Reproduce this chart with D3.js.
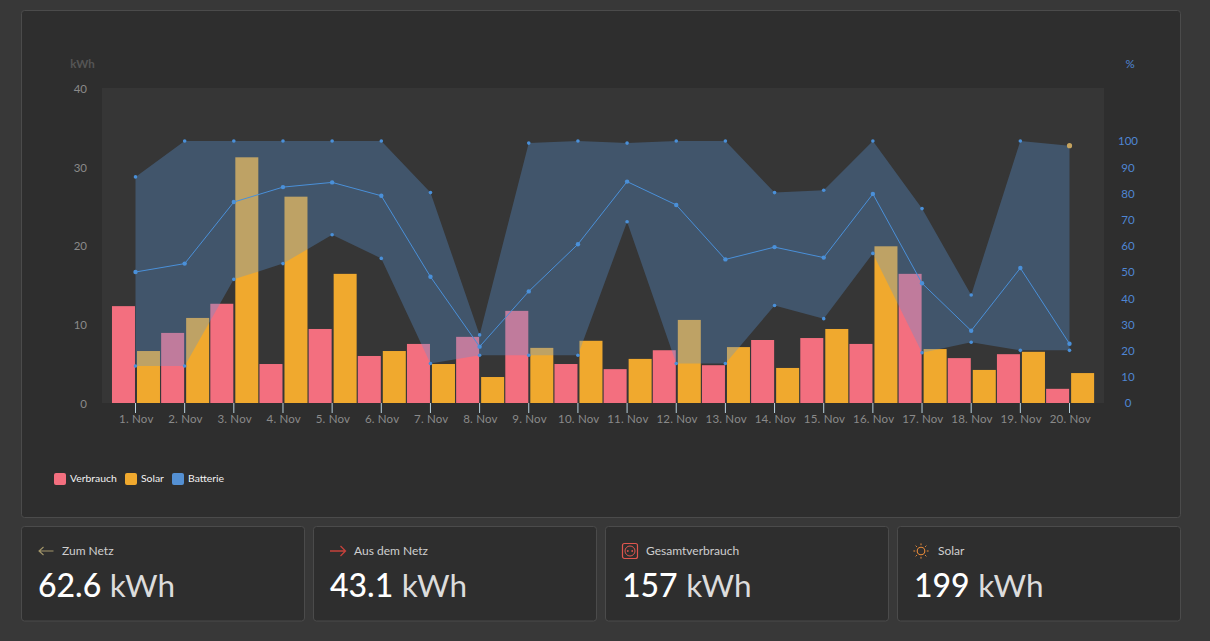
<!DOCTYPE html>
<html><head><meta charset="utf-8">
<script src="https://cdn.jsdelivr.net/npm/d3@7/dist/d3.min.js"></script>
<style>
html,body{margin:0;padding:0;background:#383838;overflow:hidden}
svg{display:block}
text{font-family:"Lato","Noto Sans",sans-serif}
.domain{display:none}
</style></head><body><svg id="c" width="1210" height="641"></svg>
<script>
const days=["1. Nov","2. Nov","3. Nov","4. Nov","5. Nov","6. Nov","7. Nov","8. Nov","9. Nov","10. Nov","11. Nov","12. Nov","13. Nov","14. Nov","15. Nov","16. Nov","17. Nov","18. Nov","19. Nov","20. Nov"];
const verbrauch=[12.3,8.9,12.6,4.95,9.4,5.97,7.5,8.4,11.7,4.95,4.3,6.7,4.8,8.0,8.25,7.5,16.4,5.7,6.2,1.8];
const solar=[6.6,10.8,31.2,26.2,16.4,6.6,4.95,3.3,7.0,7.9,5.6,10.55,7.1,4.45,9.4,19.9,6.85,4.2,6.5,3.8];
const batterieMax=[86.3,100,100,100,100,100,80.3,26,99.2,100,99.2,100,100,80.3,81.2,100,74.2,41.2,100,98.2];
const batterieMin=[14.1,14.1,47.2,53.2,64.2,55.2,15.1,18.2,18.2,18.2,69.2,15.1,15.1,37.2,32.2,57.1,19.2,23.2,20.1,20.1];
const batterieAvg=[50,53.2,76.7,82.4,84.2,79.1,48.2,21.5,42.6,60.6,84.5,75.6,54.8,59.5,55.5,79.8,45.7,27.6,51.5,22.6];
const kwhTicks=[0,10,20,30,40];
const pctTicks=[0,10,20,30,40,50,60,70,80,90,100];
const legendItems=["Verbrauch","Solar","Batterie"];
const cardLabels=["Zum Netz","Aus dem Netz","Gesamtverbrauch","Solar"];
const cardNumbers=["62.6","43.1","157","199"];
const cardUnit="kWh";

const PINK="#f36f7f",ORANGE="#f0a92e",BLUE="#4a90d9";
const svg=d3.select("#c");

// panels
svg.append("rect").attr("x",21.5).attr("y",10.5).attr("width",1159).attr("height",507).attr("rx",3)
  .attr("fill","#2e2e2e").attr("stroke","#4b4b4b");
svg.append("rect").attr("x",102).attr("y",88).attr("width",1002).attr("height",315).attr("fill","#363636");

const x0=d3.scaleBand().domain(days).range([111.4,1094.7]);
const x1=d3.scaleBand().domain(["v","s"]).range([0,x0.bandwidth()]).paddingInner(.08).paddingOuter(.023);
const xP=d3.scalePoint().domain(days).range([135.5,1069.5]);
const yK=d3.scaleLinear().domain([0,40]).range([403,88]);
const yP=d3.scaleLinear().domain([0,120]).range([403,88.6]);

// bars
const bars=svg.append("g");
[["v",verbrauch,PINK],["s",solar,ORANGE]].forEach(([k,vals,col])=>{
  bars.selectAll("rect."+k).data(vals).join("rect").attr("class",k)
    .attr("x",(d,i)=>x0(days[i])+x1(k)).attr("width",x1.bandwidth())
    .attr("y",d=>yK(d)).attr("height",d=>403-yK(d)).attr("fill",col);
});

// battery band
const area=d3.area().x((d,i)=>xP(days[i])).y0((d,i)=>yP(batterieMin[i])).y1(d=>yP(d));
svg.append("path").attr("d",area(batterieMax)).attr("fill","rgba(88,148,216,.33)");
const line=d3.line().x((d,i)=>xP(days[i])).y(d=>yP(d));
svg.append("path").attr("d",line(batterieAvg)).attr("fill","none").attr("stroke",BLUE).attr("stroke-width",1);
svg.append("g").selectAll("circle").data(batterieAvg).join("circle")
  .attr("cx",(d,i)=>xP(days[i])).attr("cy",d=>yP(d)).attr("r",2.2).attr("fill",BLUE);
[batterieMax,batterieMin].forEach(arr=>{
  svg.append("g").selectAll("circle").data(arr).join("circle")
    .attr("cx",(d,i)=>xP(days[i])).attr("cy",d=>yP(d)).attr("r",(d,i)=>arr===batterieMax&&i===19?2.6:1.8)
    .attr("fill",(d,i)=>arr===batterieMax&&i===19?"#c5a35f":BLUE);
});

// axes
const ax=svg.append("g").attr("transform","translate(0,403)")
  .call(d3.axisBottom(xP).tickSize(10).tickPadding(2).offset(0));
ax.selectAll("line").attr("stroke","#b9d2de");
ax.selectAll("text").attr("fill","#8a8a8a").attr("font-size",11.5).attr("dx",.8).attr("letter-spacing",.2);
const al=svg.append("g").attr("transform","translate(87,0.6)")
  .call(d3.axisLeft(yK).tickValues(kwhTicks).tickSize(0).tickPadding(0));
al.selectAll("text").attr("fill","#8a8a8a").attr("font-size",11.5);
const ar=svg.append("g").attr("transform","translate(1128,0.2)")
  .call(d3.axisRight(yP).tickValues(pctTicks).tickSize(0).tickPadding(0));
ar.selectAll("text").attr("fill","#4f86d3").attr("font-size",11.5).attr("text-anchor","middle");
svg.append("text").attr("x",82.5).attr("y",67.5).attr("text-anchor","middle").attr("fill","#555").attr("font-size",11.5).attr("font-weight",700).text("kWh");
svg.append("text").attr("x",1130).attr("y",67.5).attr("text-anchor","middle").attr("fill","#4f86d3").attr("font-size",11.5).text("%");

// legend
const legX=[54,125,172],legCol=[PINK,ORANGE,"#5490d3"];
legendItems.forEach((t,i)=>{
  svg.append("rect").attr("x",legX[i]).attr("y",473).attr("width",12).attr("height",12).attr("rx",2).attr("fill",legCol[i]);
  svg.append("text").attr("x",legX[i]+16).attr("y",482).attr("fill","#f2f2f2").attr("font-size",10.4).text(t);
});

// cards
const cardX=[21.5,313.5,605.5,897.5];
cardLabels.forEach((t,i)=>{
  const cx=cardX[i];
  svg.append("rect").attr("x",cx).attr("y",526.5).attr("width",283).attr("height",94.5).attr("rx",3)
    .attr("fill","#2e2e2e").attr("stroke","#4b4b4b");
  svg.append("text").attr("x",cx+40.5).attr("y",555).attr("fill","#cfcfcf").attr("font-size",12).text(t);
  const v=svg.append("text").attr("x",cx+16.5).attr("y",597).attr("font-size",32).attr("font-weight",500).attr("fill","#fff");
  v.append("tspan").text(cardNumbers[i]);
  v.append("tspan").attr("dx",8.5).attr("fill","#dcdcdc").attr("font-weight",400).attr("font-size",31.5).text(cardUnit);
});
// icons
const ic=(x,y)=>svg.append("g").attr("transform",`translate(${x},${y})`).attr("fill","none");
ic(38,551).call(g=>{
  g.append("path").attr("d","M15.5 0H1M5.5-4L1 0L5.5 4").attr("stroke","#a3966a").attr("stroke-width",1.1);
});
ic(330,551).call(g=>{
  g.append("path").attr("d","M0 0H15.5M10.5-5L15.5 0L10.5 5").attr("stroke","#c5413b").attr("stroke-width",1.3);
});
ic(622,551).call(g=>{
  g.append("rect").attr("x",.5).attr("y",-7.5).attr("width",15).attr("height",15).attr("rx",2).attr("stroke","#e0564e").attr("stroke-width",1.2);
  g.append("circle").attr("cx",8).attr("cy",0).attr("r",5).attr("stroke","#e0564e");
  g.append("circle").attr("cx",5.8).attr("cy",0).attr("r",.9).attr("fill","#e0564e");
  g.append("circle").attr("cx",10.2).attr("cy",0).attr("r",.9).attr("fill","#e0564e");
});
ic(921,551).call(g=>{
  g.append("circle").attr("r",3.8).attr("stroke","#e98b3a").attr("stroke-width",1.1);
  d3.range(8).forEach(k=>{
    const a=k*Math.PI/4;
    g.append("line").attr("x1",5.8*Math.cos(a)).attr("y1",5.8*Math.sin(a)).attr("x2",7.6*Math.cos(a)).attr("y2",7.6*Math.sin(a)).attr("stroke","#e98b3a");
  });
});
</script></body></html>
